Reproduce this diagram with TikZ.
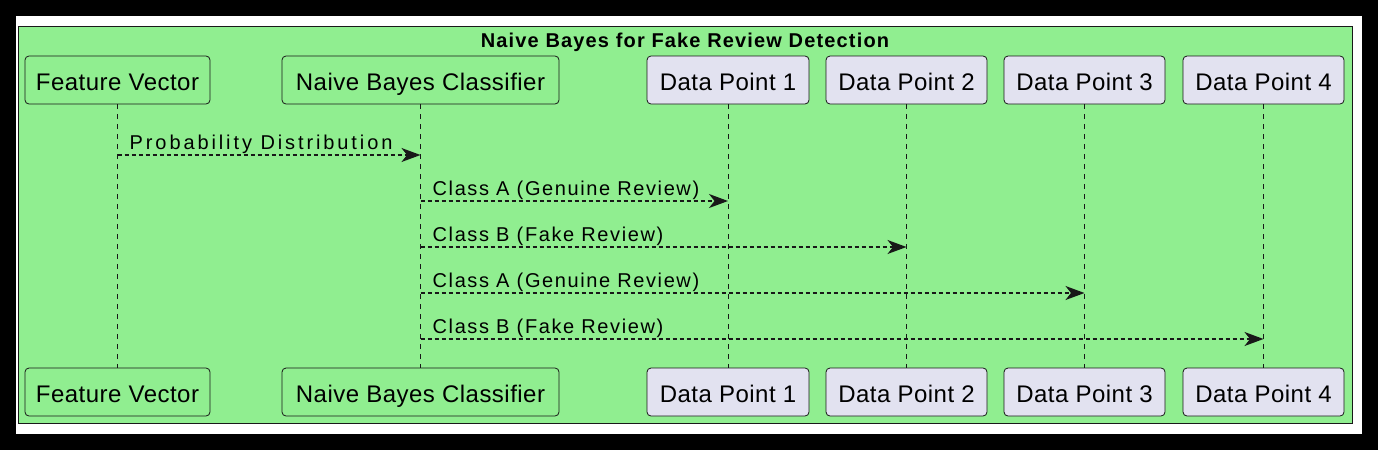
\documentclass[tikz,border=0pt]{standalone}
\usepackage{fontspec}
\setmainfont{Liberation Sans}
\usetikzlibrary{arrows.meta}
\definecolor{bggreen}{HTML}{90EE90}
\definecolor{pbox}{HTML}{E2E2F0}
\definecolor{ln}{HTML}{181818}
\newfontfamily\partfont[LetterSpace=2]{Liberation Sans}
\newfontfamily\msgfont[LetterSpace=8]{Liberation Sans}
\newfontfamily\msgwide[LetterSpace=14.5]{Liberation Sans}
\newfontfamily\titlefont[LetterSpace=5.8]{Liberation Sans}
\begin{document}
\begin{tikzpicture}[x=1pt,y=-1pt,
  part/.style={draw=ln, line width=0.8pt, rounded corners=4pt, minimum height=48pt,
    inner sep=0pt, text height=20pt, text depth=0pt, text=black,
    font=\partfont\fontsize{24}{28}\selectfont},
  grn/.style={part, fill=bggreen},
  blu/.style={part, fill=pbox},
  life/.style={draw=ln, line width=0.8pt, dash pattern=on 5pt off 5pt},
  msg/.style={draw=ln, line width=1.5pt, dash pattern=on 4pt off 3pt,
    -{Stealth[length=19pt,width=14pt,inset=5.5pt]}},
  lbl/.style={inner sep=0pt, anchor=base west, text=black, font=\msgfont\fontsize{20}{24}\selectfont}
]
\fill[black] (0,0) rectangle (1378,450);
\useasboundingbox (0,0) rectangle (1378,450);
\fill[white] (16,16) rectangle (1362,434);
\draw[ln, line width=0.8pt, fill=bggreen] (18,26) rectangle (1352,423);
\node[inner sep=0pt, anchor=base, font=\titlefont\bfseries\fontsize{20}{24}\selectfont] (title) at (685,47) {Naive Bayes for Fake Review Detection};

% top participants
\node[grn, minimum width=185pt] (fvt) at (117.5,80) {Feature Vector};
\node[grn, minimum width=277pt] (nbt) at (420.5,80) {Naive Bayes Classifier};
\node[blu, minimum width=162pt] (d1t) at (728,80) {Data Point 1};
\node[blu, minimum width=161pt] (d2t) at (906.5,80) {Data Point 2};
\node[blu, minimum width=161pt] (d3t) at (1084.5,80) {Data Point 3};
\node[blu, minimum width=161pt] (d4t) at (1263.5,80) {Data Point 4};
% bottom participants
\node[grn, minimum width=185pt] (fvb) at (117.5,392) {Feature Vector};
\node[grn, minimum width=277pt] (nbb) at (420.5,392) {Naive Bayes Classifier};
\node[blu, minimum width=162pt] (d1b) at (728,392) {Data Point 1};
\node[blu, minimum width=161pt] (d2b) at (906.5,392) {Data Point 2};
\node[blu, minimum width=161pt] (d3b) at (1084.5,392) {Data Point 3};
\node[blu, minimum width=161pt] (d4b) at (1263.5,392) {Data Point 4};

% lifelines
\foreach \p in {fv,nb,d1,d2,d3,d4}{
  \draw[life] (\p t.south) -- (\p b.north);
}

% message rows
\coordinate (r1) at (0,155);
\coordinate (r2) at (0,201);
\coordinate (r3) at (0,247);
\coordinate (r4) at (0,293);
\coordinate (r5) at (0,339);

\draw[msg] (fvt |- r1) -- (nbt |- r1);
\node[lbl, font=\msgwide\fontsize{20}{24}\selectfont] (l1) at ([xshift=12pt,yshift=6pt]fvt |- r1) {Probability Distribution};
\draw[msg] (nbt |- r2) -- (d1t |- r2);
\node[lbl] (l2) at ([xshift=12pt,yshift=6pt]nbt |- r2) {Class A (Genuine Review)};
\draw[msg] (nbt |- r3) -- (d2t |- r3);
\node[lbl] (l3) at ([xshift=12pt,yshift=6pt]nbt |- r3) {Class B (Fake Review)};
\draw[msg] (nbt |- r4) -- (d3t |- r4);
\node[lbl] (l4) at ([xshift=12pt,yshift=6pt]nbt |- r4) {Class A (Genuine Review)};
\draw[msg] (nbt |- r5) -- (d4t |- r5);
\node[lbl] (l5) at ([xshift=12pt,yshift=6pt]nbt |- r5) {Class B (Fake Review)};
\end{tikzpicture}
\end{document}
